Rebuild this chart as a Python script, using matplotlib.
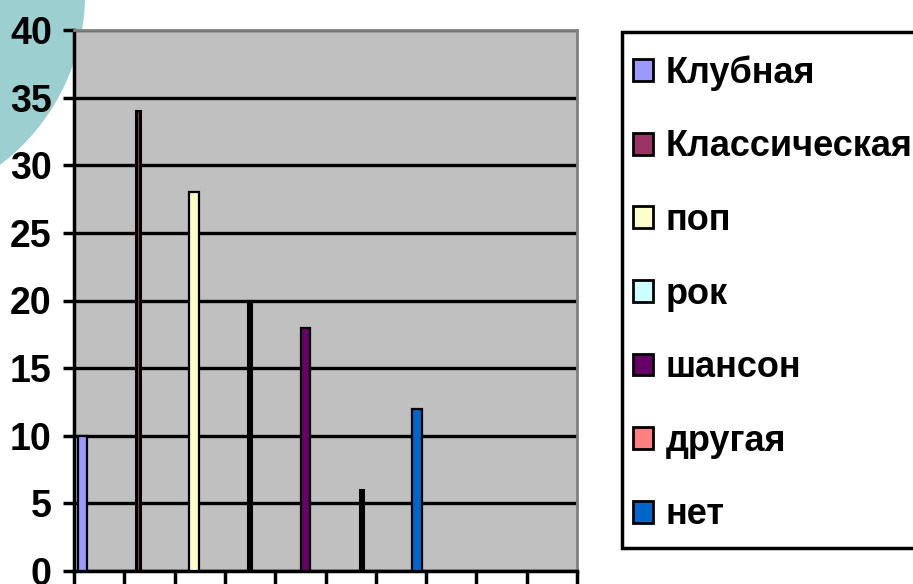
import matplotlib
matplotlib.use("Agg")
import matplotlib.pyplot as plt
from matplotlib.patches import Patch, Circle, Rectangle

# данные
genres = ["Клубная", "Классическая", "поп", "рок", "шансон", "другая", "нет"]
votes = [10, 34, 28, 20, 18, 6, 12]
colors = ["#9999FF", "#993366", "#FFFFCC", "#CCFFFF", "#660066", "#FF8080", "#0066CC"]
y_ticks = [0, 5, 10, 15, 20, 25, 30, 35, 40]

plt.rcParams['font.family'] = ['Liberation Sans Narrow', 'Liberation Sans', 'DejaVu Sans']
plt.rcParams['font.weight'] = 'bold'

W, H = 913, 584
fig = plt.figure(figsize=(W / 100, H / 100), dpi=100)

# декоративный круг в левом верхнем углу (координаты в дюймах)
circ = Circle((-1.296, (H + 6.2) / 100), 2.147, transform=fig.dpi_scale_trans,
              facecolor="#9CCFCF", edgecolor="none", zorder=-1)
fig.patches.append(circ)

ax = fig.add_axes([74 / W, 1 - 571 / H, 503 / W, 541 / H])
ax.set_facecolor("#C0C0C0")

px = 10 / 503  # один пиксель в единицах оси x
step = 1.11
pos = [0.16 + i * step for i in range(len(genres))]
bar_px = [9, 4, 10, 3, 9, 3, 10]
edge_w = [1.6, 2.2, 1.6, 2.2, 1.6, 2.2, 1.6]
ax.bar(pos, votes, width=[b * px for b in bar_px], color=colors,
       edgecolor="black", linewidth=edge_w, zorder=3)

ax.set_xlim(0, 10)
ax.set_ylim(0, 40)
ax.set_yticks(y_ticks)
ax.set_xticks(range(11))
ax.set_xticklabels([])
ax.tick_params(axis='y', labelsize=27, length=8, width=2.5, pad=8)
ax.tick_params(axis='x', length=9, width=2.5)
ax.yaxis.grid(True, color="black", linewidth=2.4)
ax.set_axisbelow(True)

for s in ["left", "bottom"]:
    ax.spines[s].set_linewidth(2.5)
    ax.spines[s].set_color("black")
for s in ["top", "right"]:
    ax.spines[s].set_linewidth(2)
    ax.spines[s].set_color("#808080")

# рамка легенды
fig.patches.append(Rectangle((622 / W, 1 - 548 / H), 300 / W, 516 / H,
                             transform=fig.transFigure, facecolor="white",
                             edgecolor="black", linewidth=2.5, zorder=1))

handles = [Patch(facecolor=c, edgecolor="black", linewidth=2) for c in colors]
fs = 26
row_y = [73, 145, 218, 293, 366, 440, 515]  # центры строк легенды, px


def make_legend(anchor_y, spacing):
    return fig.legend(handles, genres, loc="upper left",
                      bbox_to_anchor=(633 / W, anchor_y),
                      prop={'size': fs, 'weight': 'bold'},
                      frameon=False, handlelength=0.55, handleheight=0.55,
                      handletextpad=0.35, labelspacing=spacing,
                      borderpad=0, borderaxespad=0)


leg = make_legend(1 - 50 / H, 1.1)
leg.set_zorder(2)
fig.canvas.draw()
ext = [t.get_window_extent() for t in leg.get_texts()]
c0 = H - (ext[0].y0 + ext[0].y1) / 2
c6 = H - (ext[-1].y0 + ext[-1].y1) / 2
gap_now = (c6 - c0) / 6
gap_want = (row_y[-1] - row_y[0]) / 6
spacing = 1.1 + (gap_want - gap_now) / (fs * 100 / 72)
leg.remove()
leg = make_legend(1 - 50 / H, spacing)
leg.set_zorder(2)
fig.canvas.draw()
ext = leg.get_texts()[0].get_window_extent()
c0 = H - (ext.y0 + ext.y1) / 2
leg.remove()
leg = make_legend(1 - (50 + row_y[0] - c0) / H, spacing)
leg.set_zorder(2)

fig.savefig("out.png", dpi=100)
